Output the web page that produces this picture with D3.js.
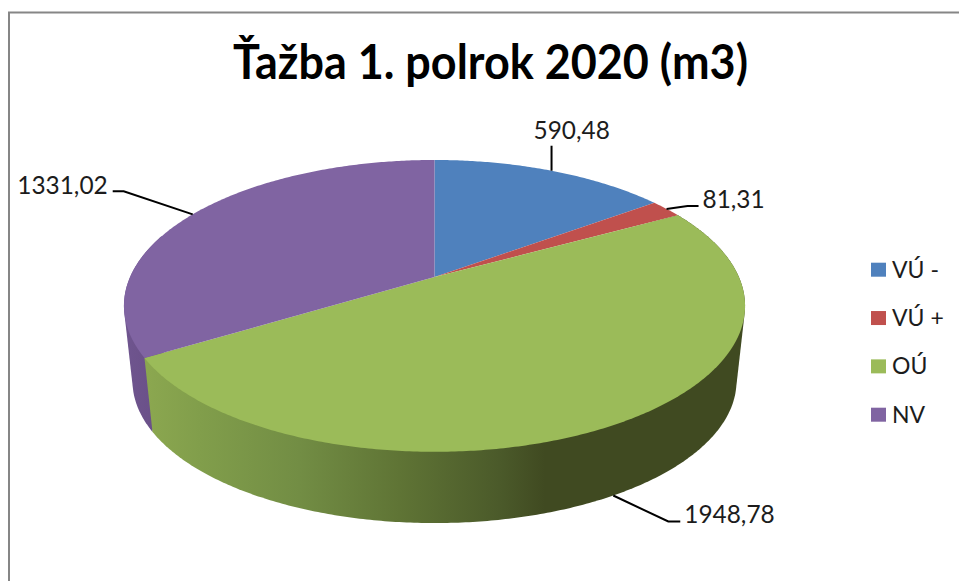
<!DOCTYPE html>
<html>
<head>
<meta charset="utf-8">
<script src="https://cdnjs.cloudflare.com/ajax/libs/d3/7.8.5/d3.min.js"></script>
<style>
html,body{margin:0;padding:0;background:#fff}
svg{display:block}
text{font-family:Lato,"Open Sans",sans-serif;fill:#1c1c1c}
</style>
</head>
<body>
<svg id="chart" width="959" height="581"></svg>
<script>
const titleText = "Ťažba 1. polrok 2020 (m3)";
const categories = ["VÚ -", "VÚ +", "OÚ", "NV"];
const values = [590.48, 81.31, 1948.78, 1331.02];
const valueLabels = ["590,48", "81,31", "1948,78", "1331,02"];
const colors = ["#4f81bd", "#c0504d", "#9bbb59", "#8064a2"];

const svg = d3.select("#chart");
const defs = svg.append("defs");

// frame
svg.append("path").attr("d", "M9,581V12.5H959").attr("fill", "none").attr("stroke", "#868686").attr("stroke-width", 2);

// title
svg.append("text").attr("x", 490.5).attr("y", 79).attr("text-anchor", "middle")
  .attr("font-size", 47).attr("font-weight", 700)
  .attr("textLength", 515).attr("lengthAdjust", "spacingAndGlyphs")
  .style("fill", "#000").text(titleText);

// perspective projection of the pie's disc
const persp = 0.198;
const topFace = {cx: 434.5, cy: 277, a: 304.4, b: 140.2};
const botFace = {cx: 434.5, cy: 353, a: 296, b: 136.4};
const project = (f, t) => {
  const w = 1 + persp * Math.cos(t);
  return [f.cx + f.a * Math.sin(t) / w, f.cy - f.b * Math.cos(t) / w];
};
const arcPoints = (f, t0, t1) => {
  const n = Math.max(2, Math.ceil((t1 - t0) / 0.01));
  return d3.range(n + 1).map(i => project(f, t0 + (t1 - t0) * i / n));
};

const arcs = d3.pie().sort(null)(values);
const line = d3.line();

// side wall gradients
const sideGradient = (id, stops) => {
  const g = defs.append("linearGradient").attr("id", id).attr("gradientUnits", "userSpaceOnUse")
    .attr("x1", 124).attr("x2", 745).attr("y1", 0).attr("y2", 0);
  stops.forEach(([o, c]) => g.append("stop").attr("offset", o).attr("stop-color", c));
};
sideGradient("sideGreen", [[0, "#8fab50"], [0.047, "#8aa64f"], [0.122, "#819e4b"], [0.283, "#728d44"], [0.444, "#5f7435"], [0.605, "#4b5a2a"], [0.678, "#404a21"], [1, "#404a21"]]);
sideGradient("sidePurple", [[0, "#6f558f"], [0.05, "#6a5088"]]);

// side walls: back pieces first, the front wall over them
const frontArc = arcs[2], leftArc = arcs[3];
const hullPath = (t0, t1) => {
  const pts = arcPoints(topFace, t0, t1).concat(arcPoints(botFace, t0, t1));
  return line(d3.polygonHull(pts)) + "Z";
};
svg.append("path").attr("d", hullPath(leftArc.startAngle, Math.min(leftArc.endAngle, 1.6 * Math.PI))).attr("fill", "url(#sidePurple)");
svg.append("path").attr("d", hullPath(frontArc.startAngle, frontArc.endAngle)).attr("fill", "url(#sideGreen)");

// top face
arcs.forEach((d, i) => {
  const pts = [[topFace.cx, topFace.cy]];
  svg.append("path").attr("d", line(pts.concat(arcPoints(topFace, d.startAngle, d.endAngle))) + "Z")
    .attr("fill", colors[i]);
});

// leader lines and value labels: offsets from the anchor on the pie's edge
const leaders = [
  {face: topFace, elbow: [[0, -25]], text: [-18, -32], anchor: "start"},
  {face: topFace, elbow: [[21, -3], [32, -3]], text: [36, -1], anchor: "start"},
  {face: botFace, elbow: [[55, 26], [67, 26]], text: [71, 27], anchor: "start"},
  {face: topFace, elbow: [[-69, -23], [-80, -23]], text: [-85, -20], anchor: "end"}
];
arcs.forEach((d, i) => {
  const l = leaders[i];
  const p = project(l.face, (d.startAngle + d.endAngle) / 2);
  const pts = [p].concat(l.elbow.map(e => [p[0] + e[0], p[1] + e[1]]));
  svg.append("path").attr("d", line(pts)).attr("fill", "none").attr("stroke", "#000").attr("stroke-width", 2);
  svg.append("text").attr("x", p[0] + l.text[0]).attr("y", p[1] + l.text[1]).attr("text-anchor", l.anchor)
    .attr("font-size", 24.4).text(valueLabels[i]);
});

// legend
const legendY = d3.scalePoint().domain(categories).range([269.7, 414.7]);
const legend = svg.append("g").selectAll("g").data(categories).join("g")
  .attr("transform", d => `translate(871,${legendY(d)})`);
legend.append("rect").attr("x", 0).attr("y", -7).attr("width", 15).attr("height", 14)
  .attr("fill", (d, i) => colors[i]);
legend.append("text").attr("x", 21).attr("y", 8).attr("font-size", 23).text(d => d);
</script>
</body>
</html>
